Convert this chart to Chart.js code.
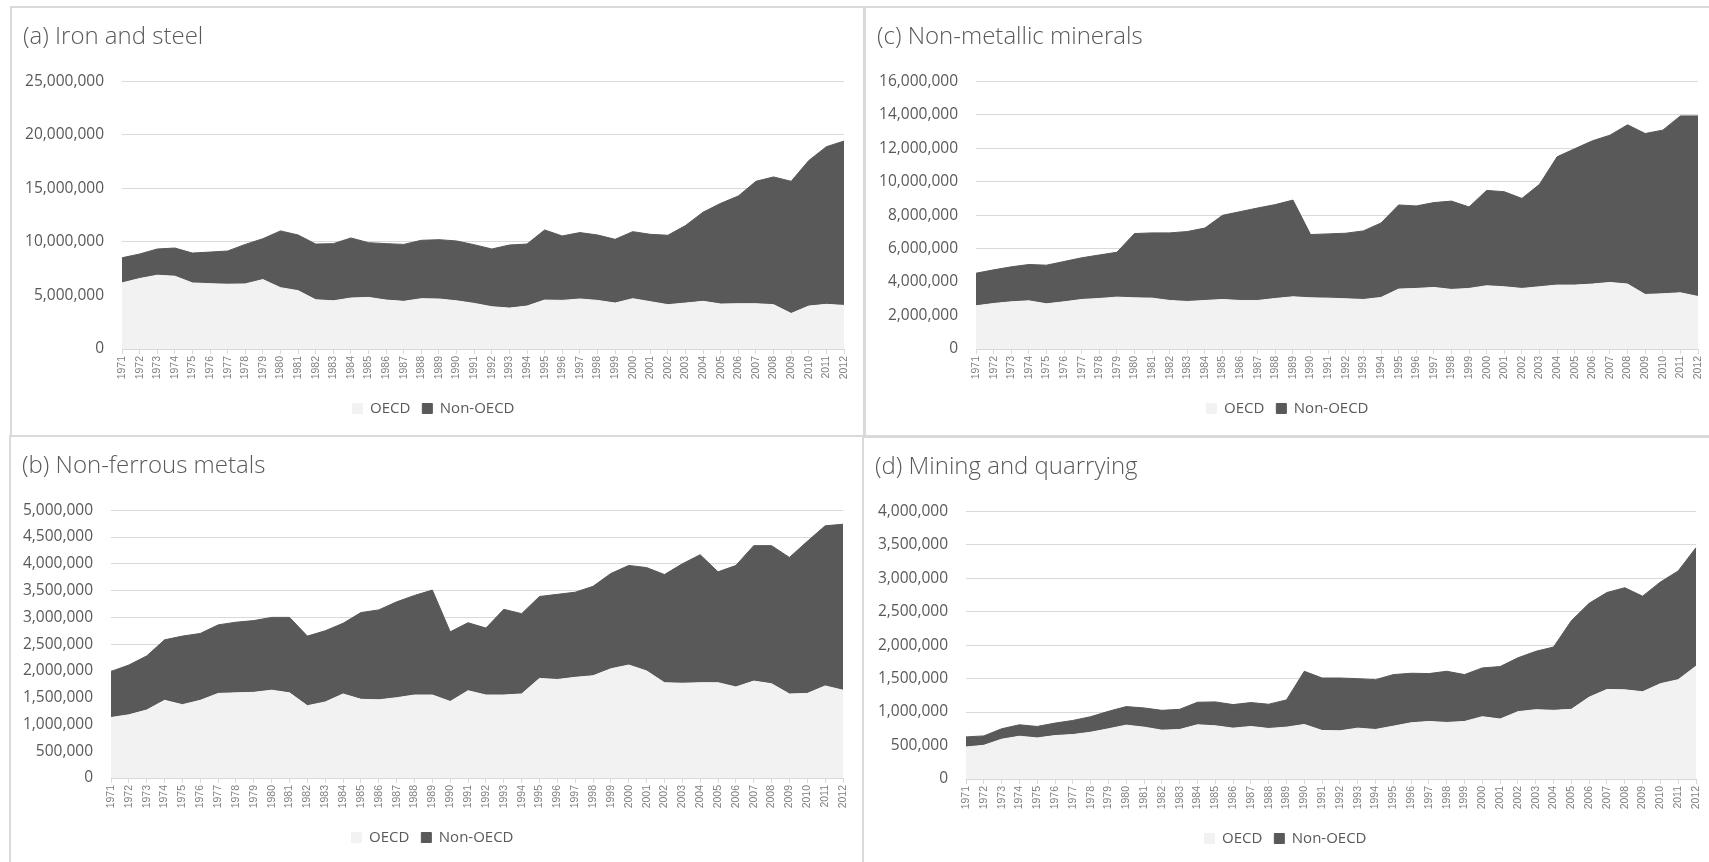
<!DOCTYPE html>
<html>
<head>
<meta charset="utf-8">
<title>Industrial energy use: OECD vs Non-OECD</title>
<script src="https://cdn.jsdelivr.net/npm/chart.js@4"></script>
<style>
    body { margin: 0; width: 1709px; height: 862px; overflow: hidden; position: relative; background: #fff; }
    .panel { position: absolute; border: 2px solid #d9d9d9; background: #fff; width: 851px; height: 427px; }
    #panel-a { left: 10px; top: 6px; }
    #panel-c { left: 864px; top: 6px; }
    #panel-b { left: 9px; top: 435px; }
    #panel-d { left: 862px; top: 436px; }
</style>
</head>
<body>
<div class="panel" id="panel-a"><canvas id="chart-a"></canvas></div>
<div class="panel" id="panel-c"><canvas id="chart-c"></canvas></div>
<div class="panel" id="panel-b"><canvas id="chart-b"></canvas></div>
<div class="panel" id="panel-d"><canvas id="chart-d"></canvas></div>

<script>
// Years on the category axis
const years = ['1971', '1972', '1973', '1974', '1975', '1976', '1977', '1978', '1979', '1980',
    '1981', '1982', '1983', '1984', '1985', '1986', '1987', '1988', '1989', '1990',
    '1991', '1992', '1993', '1994', '1995', '1996', '1997', '1998', '1999', '2000',
    '2001', '2002', '2003', '2004', '2005', '2006', '2007', '2008', '2009', '2010',
    '2011', '2012'];

// (a) Iron and steel
const ironOecd = [6170000, 6580000, 6890000, 6800000, 6170000, 6100000, 6050000, 6080000, 6480000, 5730000,
    5450000, 4600000, 4500000, 4760000, 4820000, 4570000, 4450000, 4700000, 4670000, 4500000,
    4260000, 3950000, 3820000, 4010000, 4570000, 4540000, 4670000, 4540000, 4290000, 4700000,
    4420000, 4140000, 4290000, 4450000, 4200000, 4230000, 4230000, 4140000, 3320000, 4010000,
    4170000, 4070000];
const ironNonOecd = [2350000, 2290000, 2450000, 2630000, 2790000, 2950000, 3100000, 3690000, 3820000, 5300000,
    5200000, 5200000, 5340000, 5610000, 5110000, 5270000, 5320000, 5450000, 5540000, 5590000,
    5480000, 5390000, 5890000, 5790000, 6550000, 6020000, 6200000, 6110000, 5950000, 6260000,
    6290000, 6480000, 7240000, 8330000, 9400000, 10060000, 11430000, 11930000, 12340000, 13590000,
    14720000, 15350000];

// (c) Non-metallic minerals
const mineralsOecd = [2580000, 2720000, 2820000, 2880000, 2700000, 2820000, 2960000, 3020000, 3100000, 3060000,
    3040000, 2900000, 2840000, 2900000, 2960000, 2900000, 2900000, 3020000, 3120000, 3060000,
    3040000, 3000000, 2960000, 3080000, 3580000, 3620000, 3680000, 3560000, 3620000, 3780000,
    3720000, 3620000, 3720000, 3820000, 3820000, 3880000, 3980000, 3880000, 3260000, 3300000,
    3360000, 3140000];
const mineralsNonOecd = [1950000, 2010000, 2090000, 2170000, 2310000, 2410000, 2490000, 2600000, 2680000, 3840000,
    3900000, 4040000, 4180000, 4330000, 5030000, 5310000, 5530000, 5610000, 5780000, 3780000,
    3840000, 3920000, 4100000, 4450000, 5030000, 4930000, 5070000, 5280000, 4870000, 5700000,
    5680000, 5380000, 6120000, 7670000, 8150000, 8560000, 8800000, 9520000, 9620000, 9780000,
    10570000, 10790000];

// (b) Non-ferrous metals
const metalsOecd = [1130000, 1180000, 1270000, 1450000, 1370000, 1450000, 1580000, 1590000, 1600000, 1640000,
    1590000, 1350000, 1420000, 1570000, 1470000, 1460000, 1500000, 1550000, 1550000, 1430000,
    1630000, 1550000, 1550000, 1570000, 1860000, 1840000, 1880000, 1910000, 2040000, 2110000,
    2000000, 1780000, 1770000, 1780000, 1780000, 1700000, 1810000, 1760000, 1570000, 1580000,
    1720000, 1640000];
const metalsNonOecd = [860000, 930000, 1010000, 1130000, 1280000, 1250000, 1280000, 1320000, 1340000, 1360000,
    1410000, 1300000, 1330000, 1320000, 1620000, 1680000, 1790000, 1860000, 1960000, 1300000,
    1270000, 1250000, 1600000, 1500000, 1530000, 1590000, 1590000, 1670000, 1780000, 1860000,
    1930000, 2020000, 2230000, 2390000, 2070000, 2270000, 2530000, 2580000, 2550000, 2840000,
    2990000, 3100000];

// (d) Mining and quarrying
const miningOecd = [478000, 503000, 594000, 639000, 614000, 649000, 664000, 699000, 750000, 805000,
    775000, 730000, 740000, 810000, 795000, 760000, 785000, 755000, 775000, 815000,
    725000, 720000, 760000, 740000, 790000, 840000, 860000, 845000, 860000, 931000,
    896000, 1006000, 1036000, 1026000, 1041000, 1223000, 1338000, 1333000, 1303000, 1424000,
    1484000, 1686000];
const miningNonOecd = [151000, 141000, 156000, 171000, 171000, 186000, 211000, 232000, 261000, 277000,
    287000, 296000, 301000, 337000, 357000, 352000, 357000, 362000, 407000, 795000,
    784000, 789000, 739000, 744000, 770000, 740000, 715000, 765000, 700000, 729000,
    784000, 805000, 871000, 946000, 1324000, 1403000, 1449000, 1525000, 1429000, 1519000,
    1625000, 1771000];

const OECD_COLOR = '#f2f2f2';
const NON_OECD_COLOR = '#595959';
const TEXT_COLOR = '#595959';
const GRID_COLOR = '#d9d9d9';

Chart.defaults.font.family = "'Open Sans', sans-serif";

document.addEventListener('DOMContentLoaded', () => {
    drawPanel('chart-a', '(a) Iron and steel', ironOecd, ironNonOecd, 25000000, 5000000, 99);
    drawPanel('chart-c', '(c) Non-metallic minerals', mineralsOecd, mineralsNonOecd, 16000000, 2000000, 99);
    drawPanel('chart-b', '(b) Non-ferrous metals', metalsOecd, metalsNonOecd, 5000000, 500000, 89);
    drawPanel('chart-d', '(d) Mining and quarrying', miningOecd, miningNonOecd, 4000000, 500000, 91);
});

// One stacked area chart: OECD at the bottom, Non-OECD stacked on top
function drawPanel(canvasId, titleText, oecd, nonOecd, yMax, yStep, yAxisWidth) {
    new Chart(document.getElementById(canvasId), {
        type: 'line',
        data: {
            labels: years,
            datasets: [
                {
                    label: 'OECD',
                    data: oecd,
                    backgroundColor: OECD_COLOR,
                    borderColor: OECD_COLOR,
                    borderWidth: 1,
                    pointRadius: 0,
                    fill: 'origin'
                },
                {
                    label: 'Non-OECD',
                    data: nonOecd,
                    backgroundColor: NON_OECD_COLOR,
                    borderColor: NON_OECD_COLOR,
                    borderWidth: 1,
                    pointRadius: 0,
                    fill: '-1'
                }
            ]
        },
        options: {
            responsive: true,
            maintainAspectRatio: false,
            animation: false,
            layout: { padding: { left: 11, right: 19, top: 0, bottom: 9 } },
            plugins: {
                title: {
                    display: true,
                    text: titleText,
                    align: 'start',
                    color: TEXT_COLOR,
                    font: { size: 24, weight: 300 },
                    padding: { top: 15, bottom: 29.5 }
                },
                legend: {
                    position: 'bottom',
                    labels: {
                        boxWidth: 10,
                        boxHeight: 10,
                        padding: 12,
                        color: TEXT_COLOR,
                        font: { size: 15 }
                    }
                },
                tooltip: { enabled: false }
            },
            scales: {
                x: {
                    grid: { drawOnChartArea: false, tickLength: 5, color: GRID_COLOR },
                    border: { color: GRID_COLOR },
                    ticks: {
                        autoSkip: false,
                        minRotation: 90,
                        maxRotation: 90,
                        padding: 2,
                        color: '#7f7f7f',
                        font: { family: "'Liberation Sans', sans-serif", size: 10.5 }
                    },
                    afterFit: (scale) => { scale.height = 40; }
                },
                y: {
                    stacked: true,
                    min: 0,
                    max: yMax,
                    grid: { color: GRID_COLOR, drawTicks: false },
                    border: { display: false },
                    ticks: {
                        stepSize: yStep,
                        padding: 18,
                        color: TEXT_COLOR,
                        font: { size: 15.5 },
                        callback: (v) => v.toLocaleString('en-US')
                    },
                    afterFit: (scale) => { scale.width = yAxisWidth; }
                }
            }
        }
    });
}
</script>
</body>
</html>
